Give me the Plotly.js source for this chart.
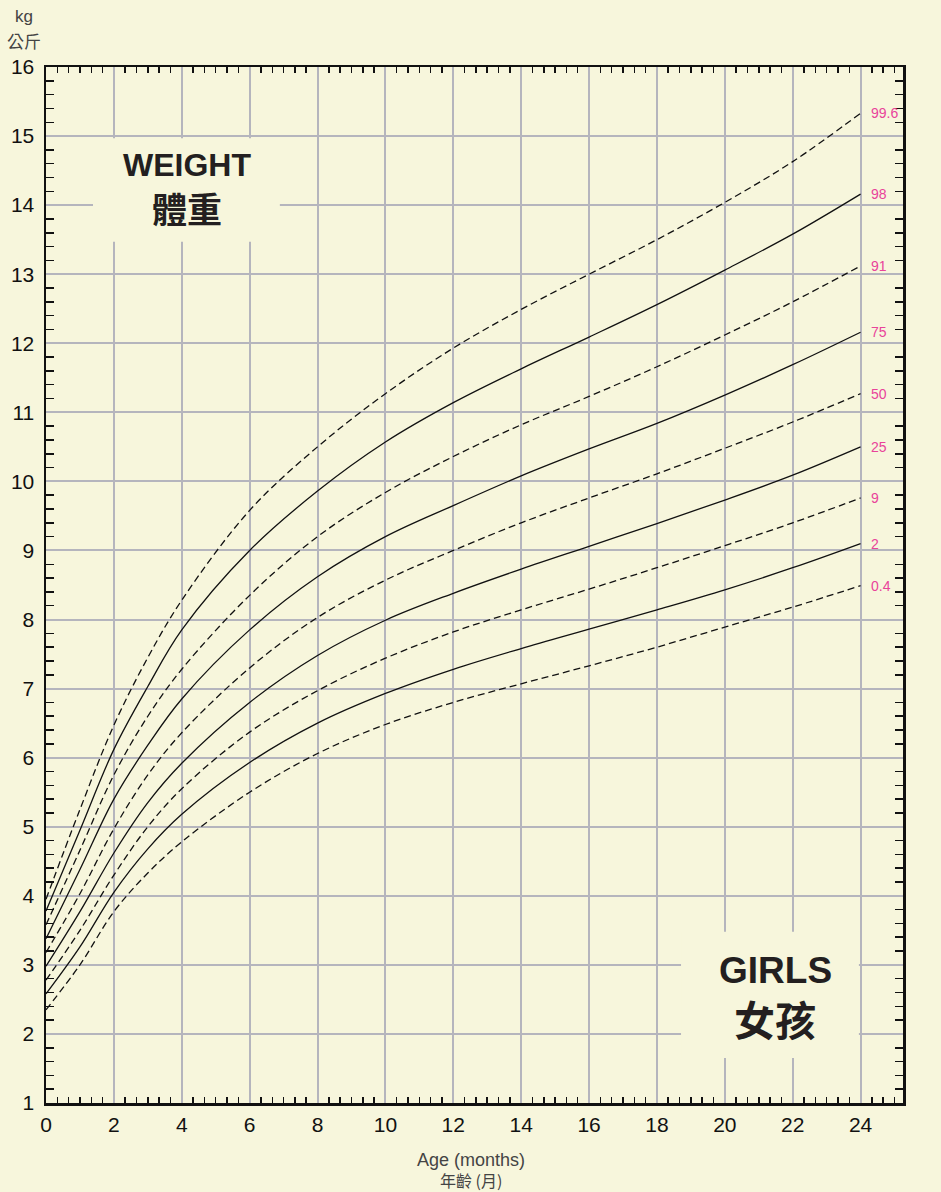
<!DOCTYPE html>
<html>
<head>
<meta charset="utf-8">
<script src="https://cdn.plot.ly/plotly-3.0.1.min.js"></script>
<style>
html,body{margin:0;padding:0;background:#f7f6dc;}
#chart{width:941px;height:1192px;}
</style>
</head>
<body>
<div id="chart"></div>
<script>
// Age in months
var months = [0, 1, 2, 3, 4, 6, 8, 10, 12, 14, 16, 18, 20, 22, 24];
// Weight (kg) centiles
var p0_4 = [2.35, 3.00, 3.77, 4.33, 4.78, 5.50, 6.06, 6.48, 6.80, 7.07, 7.33, 7.60, 7.89, 8.18, 8.49];
var p2   = [2.58, 3.26, 4.05, 4.68, 5.18, 5.93, 6.50, 6.93, 7.28, 7.58, 7.86, 8.14, 8.43, 8.75, 9.10];
var p9   = [2.78, 3.50, 4.30, 5.00, 5.55, 6.37, 6.97, 7.44, 7.82, 8.14, 8.44, 8.75, 9.07, 9.40, 9.76];
var p25  = [2.98, 3.77, 4.62, 5.35, 5.92, 6.80, 7.48, 7.99, 8.38, 8.73, 9.06, 9.39, 9.73, 10.09, 10.50];
var p50  = [3.18, 4.03, 4.97, 5.75, 6.36, 7.30, 8.03, 8.57, 9.00, 9.40, 9.76, 10.11, 10.48, 10.86, 11.27];
var p75  = [3.38, 4.38, 5.40, 6.18, 6.85, 7.85, 8.62, 9.20, 9.65, 10.08, 10.47, 10.84, 11.25, 11.69, 12.16];
var p91  = [3.58, 4.66, 5.75, 6.60, 7.28, 8.35, 9.20, 9.84, 10.36, 10.82, 11.23, 11.66, 12.12, 12.60, 13.12];
var p98  = [3.78, 4.95, 6.12, 7.03, 7.85, 9.00, 9.86, 10.57, 11.14, 11.63, 12.09, 12.56, 13.06, 13.58, 14.16];
var p99_6= [3.95, 5.25, 6.47, 7.45, 8.28, 9.58, 10.50, 11.27, 11.93, 12.49, 13.00, 13.50, 14.04, 14.63, 15.33];

var centileLabels = ["0.4", "2", "9", "25", "50", "75", "91", "98", "99.6"];
var centileSeries = [p0_4, p2, p9, p25, p50, p75, p91, p98, p99_6];
var centileDashed = [true, false, true, false, true, false, true, false, true];

var bg = '#f7f6dc';
var gridCol = '#b5b5bd';
var pink = '#e9439a';
var font = 'Liberation Sans, Arial, sans-serif';
var cjk = 'Noto Sans CJK TC, Noto Sans CJK SC, sans-serif';

var traces = [];
centileSeries.forEach(function(s, i){
  traces.push({
    x: months, y: s, type: 'scatter', mode: 'lines',
    line: {color: '#111', width: 1.3, shape: 'spline', smoothing: 1,
           dash: centileDashed[i] ? '7px,4px' : 'solid'},
    hoverinfo: 'skip', showlegend: false
  });
});

var annotations = [];
centileSeries.forEach(function(s, i){
  annotations.push({
    x: 24.25, y: s[s.length-1], xref: 'x', yref: 'y',
    text: centileLabels[i], showarrow: false, xanchor: 'left', yanchor: 'middle',
    font: {family: font, size: 14, color: pink}
  });
});
annotations.push(
  {xref:'paper', yref:'paper', x:-0.0257, y:1.0483, text:'kg', showarrow:false, xanchor:'center', yanchor:'middle', font:{family:font, size:17, color:'#444'}},
  {xref:'paper', yref:'paper', x:-0.0257, y:1.0251, text:'公斤', showarrow:false, xanchor:'center', yanchor:'middle', font:{family:cjk, size:17, color:'#444'}},
  {xref:'paper', yref:'paper', x:0.496, y:-0.055, text:'Age (months)', showarrow:false, xanchor:'center', yanchor:'middle', font:{family:font, size:18, color:'#444'}},
  {xref:'paper', yref:'paper', x:0.496, y:-0.0745, text:'年齡 (月)', showarrow:false, xanchor:'center', yanchor:'middle', font:{family:cjk, size:16, color:'#444'}},
  {xref:'x', yref:'y', x:4.15, y:14.58, text:'<b>WEIGHT</b>', showarrow:false, xanchor:'center', yanchor:'middle', font:{family:font, size:32, color:'#231f20'}},
  {xref:'x', yref:'y', x:4.15, y:13.97, text:'<b>體重</b>', showarrow:false, xanchor:'center', yanchor:'middle', font:{family:cjk, size:35, color:'#231f20'}},
  {xref:'x', yref:'y', x:21.48, y:2.92, text:'<b>GIRLS</b>', showarrow:false, xanchor:'center', yanchor:'middle', font:{family:font, size:37, color:'#231f20'}},
  {xref:'x', yref:'y', x:21.48, y:2.23, text:'<b>女孩</b>', showarrow:false, xanchor:'center', yanchor:'middle', font:{family:cjk, size:41, color:'#231f20'}}
);

var shapes = [
  {type:'rect', xref:'x', yref:'y', x0:1.385, x1:6.89, y0:13.47, y1:14.97, layer:'between', fillcolor:bg, line:{width:0}},
  {type:'rect', xref:'x', yref:'y', x0:18.71, x1:23.95, y0:1.65, y1:3.48, layer:'between', fillcolor:bg, line:{width:0}}
];

var layout = {
  width: 941, height: 1192,
  paper_bgcolor: bg, plot_bgcolor: bg,
  margin: {l:46, r:38, t:67, b:89, pad:0},
  showlegend: false,
  xaxis: {
    range: [0, 25.25], tickmode: 'linear', tick0: 0, dtick: 2, ticks: '',
    showgrid: true, gridcolor: gridCol, gridwidth: 2, zeroline: false,
    showline: true, linecolor: '#111', linewidth: 2.5, mirror: 'ticks',
    tickfont: {family: font, size: 21, color: '#111'}, ticklabelstandoff: 1,
    minor: {tickmode: 'linear', tick0: 0, dtick: 1/3, ticks: 'inside', ticklen: 6, tickwidth: 1.5, tickcolor: '#111', showgrid: false},
    fixedrange: true
  },
  xaxis2: {
    overlaying: 'x', anchor: 'y', side: 'bottom', range: [0, 25.25],
    tickmode: 'linear', tick0: 1, dtick: 2, ticks: 'inside', ticklen: 10, tickwidth: 1.5, tickcolor: '#111',
    showticklabels: false, showgrid: false, zeroline: false,
    showline: true, linecolor: '#111', linewidth: 2.5, mirror: 'ticks', fixedrange: true
  },
  yaxis: {
    range: [1, 16], tickmode: 'linear', tick0: 1, dtick: 1, ticks: '',
    showgrid: true, gridcolor: gridCol, gridwidth: 2, zeroline: false,
    showline: true, linecolor: '#111', linewidth: 2.5, mirror: 'ticks',
    tickfont: {family: font, size: 21, color: '#111'}, ticklabelstandoff: 5,
    minor: {tickmode: 'linear', tick0: 0, dtick: 0.2, ticks: 'inside', ticklen: 8, tickwidth: 1.5, tickcolor: '#111', showgrid: false},
    fixedrange: true
  },
  yaxis2: {
    overlaying: 'y', anchor: 'x', side: 'right', range: [1, 16],
    tickmode: 'linear', tick0: 1, dtick: 1, ticks: '', showgrid: false, zeroline: false,
    showline: false, tickfont: {family: font, size: 21, color: '#111'}, ticklabelstandoff: 10,
    fixedrange: true
  },
  shapes: shapes,
  annotations: annotations
};

Plotly.newPlot('chart', traces, layout, {displayModeBar: false, staticPlot: true});
</script>
</body>
</html>
